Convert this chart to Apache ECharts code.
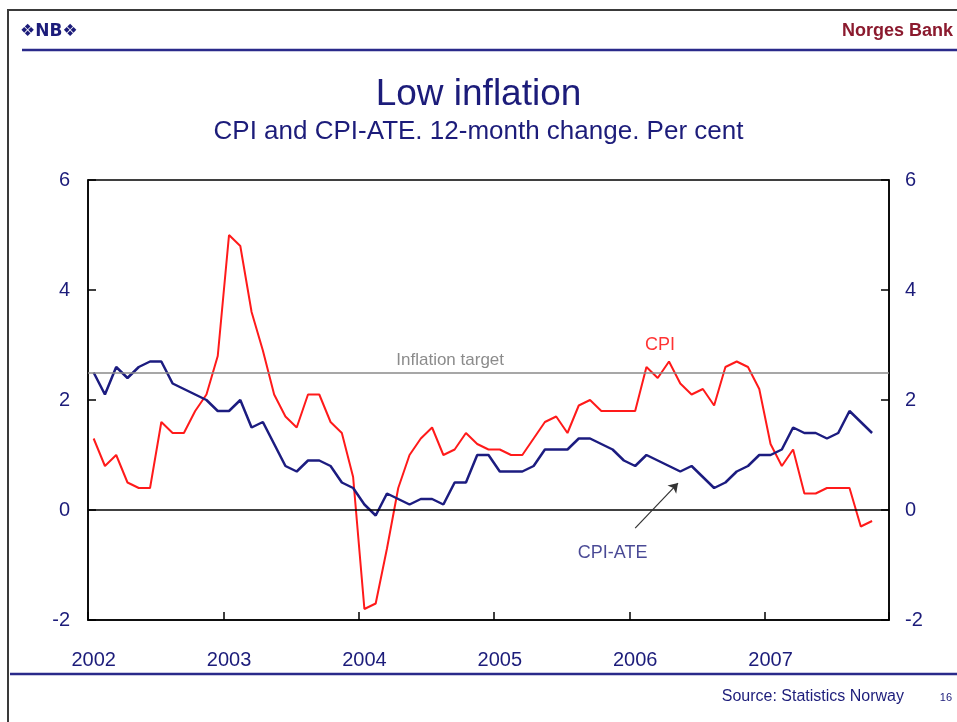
<!doctype html>
<html lang="en">
<head>
    <meta charset="UTF-8" />
    <title>Low inflation</title>
    <style>
        html, body { margin: 0; padding: 0; background: #fff; }
        #chart { width: 957px; height: 722px; }
    </style>
</head>
<body>
    <div id="chart"></div>
    <script src="https://cdn.jsdelivr.net/npm/echarts@6/dist/echarts.min.js"></script>
    <script type="text/javascript">
        // monthly data, Jan 2002 - Oct 2007 (axis runs to Nov 2007)
        var years = ['2002', '2003', '2004', '2005', '2006', '2007'];
        var monthCount = 71;

        var cpi = [
            1.3, 0.8, 1.0, 0.5, 0.4, 0.4, 1.6, 1.4, 1.4, 1.8, 2.1, 2.8,
            5.0, 4.8, 3.6, 2.9, 2.1, 1.7, 1.5, 2.1, 2.1, 1.6, 1.4, 0.6,
            -1.8, -1.7, -0.7, 0.4, 1.0, 1.3, 1.5, 1.0, 1.1, 1.4, 1.2, 1.1,
            1.1, 1.0, 1.0, 1.3, 1.6, 1.7, 1.4, 1.9, 2.0, 1.8, 1.8, 1.8,
            1.8, 2.6, 2.4, 2.7, 2.3, 2.1, 2.2, 1.9, 2.6, 2.7, 2.6, 2.2,
            1.2, 0.8, 1.1, 0.3, 0.3, 0.4, 0.4, 0.4, -0.3, -0.2
        ];
        var cpiAte = [
            2.5, 2.1, 2.6, 2.4, 2.6, 2.7, 2.7, 2.3, 2.2, 2.1, 2.0, 1.8,
            1.8, 2.0, 1.5, 1.6, 1.2, 0.8, 0.7, 0.9, 0.9, 0.8, 0.5, 0.4,
            0.1, -0.1, 0.3, 0.2, 0.1, 0.2, 0.2, 0.1, 0.5, 0.5, 1.0, 1.0,
            0.7, 0.7, 0.7, 0.8, 1.1, 1.1, 1.1, 1.3, 1.3, 1.2, 1.1, 0.9,
            0.8, 1.0, 0.9, 0.8, 0.7, 0.8, 0.6, 0.4, 0.5, 0.7, 0.8, 1.0,
            1.0, 1.1, 1.5, 1.4, 1.4, 1.3, 1.4, 1.8, 1.6, 1.4
        ];
        var inflationTarget = 2.5;
        var yTicks = [-2, 0, 2, 4, 6];

        // text notes, centred on (month index, per cent)
        var notes = [
            { name: 'Inflation target', value: [31.6, 2.73], color: '#6e6e6e' },
            { name: 'CPI', value: [50.2, 3.0], color: '#ff0000' },
            { name: 'CPI-ATE', value: [46.0, -0.78], color: '#1c1c7a' }
        ];
        var arrowFrom = [48.0, -0.33];
        var arrowTo = [51.8, 0.49];

        var months = [];
        years.forEach(function (y) {
            for (var m = 1; m <= 12; m++) {
                months.push(y + '-' + (m < 10 ? '0' + m : m));
            }
        });
        months = months.slice(0, monthCount);

        var navy = '#1c1c7a';
        var font = '"Liberation Sans", Arial, sans-serif';

        var chart = echarts.init(document.getElementById('chart'));

        var option = {
            backgroundColor: '#fff',
            animation: false,
            textStyle: { fontFamily: font },
            title: {
                text: 'Low inflation',
                subtext: 'CPI and CPI-ATE. 12-month change. Per cent',
                left: 'center',
                top: 71,
                itemGap: 6,
                textStyle: { color: navy, fontSize: 37, fontWeight: 'normal', fontFamily: font },
                subtextStyle: { color: navy, fontSize: 26, fontFamily: font }
            },
            graphic: [
                { type: 'rect', shape: { x: 8, y: 10, width: 960, height: 720 }, style: { fill: 'none', stroke: '#3a3a3a', lineWidth: 2 } },
                { type: 'line', shape: { x1: 22, y1: 50, x2: 957, y2: 50 }, style: { stroke: '#2a2a8a', lineWidth: 2.5 } },
                { type: 'line', shape: { x1: 10, y1: 674, x2: 957, y2: 674 }, style: { stroke: '#2a2a8a', lineWidth: 2.5 } },
                { type: 'text', left: 20, top: 23, style: { text: '❖NB❖', fill: navy, font: 'bold 17px "DejaVu Sans", sans-serif' } },
                { type: 'text', right: 4, top: 22, style: { text: 'Norges Bank', fill: '#8b1a2e', font: 'bold 18px ' + font } },
                { type: 'text', right: 53, top: 689, style: { text: 'Source: Statistics Norway', fill: navy, font: '16px ' + font } },
                { type: 'text', right: 5, top: 692, style: { text: '16', fill: navy, font: '11px ' + font } }
            ],
            grid: {
                left: 88,
                right: 68,
                top: 180,
                bottom: 102,
                show: true,
                borderColor: '#000',
                borderWidth: 1.5,
                backgroundColor: 'transparent'
            },
            xAxis: [{
                type: 'category',
                data: months,
                boundaryGap: true,
                axisLine: { show: true, onZero: false, lineStyle: { color: '#000', width: 1.5 } },
                axisTick: { show: true, inside: true, interval: 11, length: 8, lineStyle: { color: '#000', width: 1.5 } },
                axisLabel: {
                    interval: 11,
                    margin: 30,
                    color: navy,
                    fontSize: 20,
                    fontFamily: font,
                    formatter: function (v) { return v.slice(0, 4); }
                },
                splitLine: { show: false }
            }, {
                type: 'value',
                min: -0.5,
                max: monthCount - 0.5,
                show: false
            }],
            yAxis: [{
                type: 'value',
                position: 'left',
                min: yTicks[0],
                max: yTicks[yTicks.length - 1],
                interval: 2,
                axisLine: { show: true, onZero: false, lineStyle: { color: '#000', width: 1.5 } },
                axisTick: { show: true, inside: true, length: 8, lineStyle: { color: '#000', width: 1.5 } },
                axisLabel: { margin: 18, color: navy, fontSize: 20, fontFamily: font },
                splitLine: { show: false }
            }, {
                type: 'value',
                position: 'right',
                min: yTicks[0],
                max: yTicks[yTicks.length - 1],
                interval: 2,
                axisLine: { show: true, onZero: false, lineStyle: { color: '#000', width: 1.5 } },
                axisTick: { show: true, inside: true, length: 8, lineStyle: { color: '#000', width: 1.5 } },
                axisLabel: { margin: 16, color: navy, fontSize: 20, fontFamily: font },
                splitLine: { show: false }
            }],
            series: [{
                name: 'CPI',
                type: 'line',
                data: cpi,
                showSymbol: false,
                lineStyle: { color: '#ff1a1a', width: 2 },
                z: 3,
                markLine: {
                    silent: true,
                    symbol: 'none',
                    label: { show: false },
                    data: [
                        { yAxis: 0, lineStyle: { color: '#000', type: 'solid', width: 1.5 } },
                        { yAxis: inflationTarget, lineStyle: { color: '#8a8a8a', type: 'solid', width: 1.5 } }
                    ]
                }
            }, {
                name: 'CPI-ATE',
                type: 'line',
                data: cpiAte,
                showSymbol: false,
                lineStyle: { color: '#1c1c80', width: 2.5 },
                z: 4
            }, {
                name: 'notes',
                type: 'scatter',
                xAxisIndex: 1,
                symbolSize: 0,
                silent: true,
                data: notes.map(function (n) {
                    return {
                        name: n.name,
                        value: n.value,
                        label: {
                            show: true,
                            position: 'inside',
                            formatter: '{b}',
                            color: n.color,
                            fontSize: n.name === 'Inflation target' ? 17 : 18,
                            fontFamily: font
                        }
                    };
                }),
                markLine: {
                    silent: true,
                    symbol: ['none', 'arrow'],
                    symbolSize: 9,
                    label: { show: false },
                    lineStyle: { color: '#333', type: 'solid', width: 1.2 },
                    data: [[{ coord: arrowFrom }, { coord: arrowTo }]]
                }
            }]
        };

        chart.setOption(option);
    </script>
</body>
</html>
